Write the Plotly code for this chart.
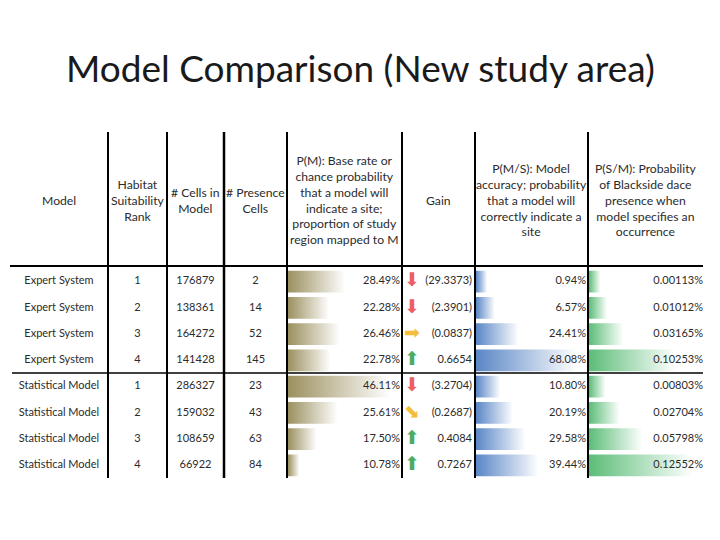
import plotly.graph_objects as go

# table contents
models = ['Expert System'] * 4 + ['Statistical Model'] * 4
ranks = [1, 2, 3, 4, 1, 2, 3, 4]
cells_in_model = [176879, 138361, 164272, 141428, 286327, 159032, 108659, 66922]
presence_cells = [2, 14, 52, 145, 23, 43, 63, 84]
p_m = [28.49, 22.28, 26.46, 22.78, 46.11, 25.61, 17.50, 10.78]
gain = [-29.3373, -2.3901, -0.0837, 0.6654, -3.2704, -0.2687, 0.4084, 0.7267]
gain_icon = ['down', 'down', 'right', 'up', 'down', 'downright', 'up', 'up']
p_ms = [0.94, 6.57, 24.41, 68.08, 10.80, 20.19, 29.58, 39.44]
p_sm = [0.00113, 0.01012, 0.03165, 0.10253, 0.00803, 0.02704, 0.05798, 0.12552]

headers = ['Model', 'Habitat<br>Suitability<br>Rank', '# Cells in<br>Model', '# Presence<br>Cells',
           'P(M): Base rate or<br>chance probability<br>that a model will<br>indicate a site;<br>'
           'proportion of study<br>region mapped to M',
           'Gain',
           'P(M/S): Model<br>accuracy; probability<br>that a model will<br>correctly indicate a<br>site',
           'P(S/M): Probability<br>of Blackside dace<br>presence when<br>model specifies an<br>occurrence']

# the page body has an 8px margin, so the figure is sized to fit the window
OFF = 8
W, H = 720 - OFF, 540 - OFF
FONT = 'Lato'
TXT = '#2b2b2b'
rows = list(range(len(models)))
top_px, bot_px = 268.5, 478.5


def px(x):
    return (x - OFF) / W


def py(y):
    return 1 - (y - OFF) / H


# column edges in window pixels
edges = [10, 108, 167, 224, 287, 402, 475, 588, 704]
centers = [(edges[i] + edges[i + 1]) / 2 for i in range(len(edges) - 1)]

icon_char = {'down': '⬇', 'up': '⬆', 'right': '➡', 'downright': '⬊'}
icon_col = {'down': '#ec5f63', 'up': '#4faa62', 'right': '#f6bd3c', 'downright': '#f6bd3c'}


def fmt_gain(v):
    return '(%.4f)' % abs(v) if v < 0 else '%.4f' % v


def bar_range(vals):
    # excel 2007 style data bars: shortest 10%, longest 90% of the cell
    lo_v, hi_v = min(vals), max(vals)
    span = (hi_v - lo_v) / 0.8
    lo = lo_v - 0.1 * span
    return [lo, lo + span]


fig = go.Figure()

bar_cols = [
    (p_m, 'x2', '#9b905f'),
    (p_ms, 'x3', '#5a86c6'),
    (p_sm, 'x4', '#5cbd78'),
]
hh = 0.41
for vals, ax, col in bar_cols:
    lo = bar_range(vals)[0]
    for r, v in zip(rows, vals):
        fig.add_trace(go.Scatter(
            x=[lo, v, v, lo, lo], y=[r - hh, r - hh, r + hh, r + hh, r - hh],
            xaxis=ax, yaxis='y', mode='lines', line=dict(width=0),
            fill='toself', hoverinfo='skip', showlegend=False,
            fillgradient=dict(type='horizontal',
                              colorscale=[[0, col], [1, '#ffffff']])))


# text layer on top of the bars
def text_trace(x, texts, pos, colors=TXT, size=11, family=FONT):
    fig.add_trace(go.Scatter(
        x=[x] * len(texts), y=rows, xaxis='x5', yaxis='y', mode='text',
        text=texts, textposition=pos, showlegend=False, hoverinfo='skip',
        textfont=dict(family=family, size=size, color=colors)))


text_trace(centers[0], models, 'middle center')
text_trace(centers[1], [str(v) for v in ranks], 'middle center')
text_trace(centers[2], [str(v) for v in cells_in_model], 'middle center')
text_trace(centers[3], [str(v) for v in presence_cells], 'middle center')
text_trace(edges[5] - 2, ['%.2f%%' % v for v in p_m], 'middle left')
text_trace(edges[6] - 3, [fmt_gain(v) for v in gain], 'middle left')
text_trace(edges[5] + 10, [icon_char[k] for k in gain_icon], 'middle center',
           colors=[icon_col[k] for k in gain_icon], size=19, family='DejaVu Sans')
text_trace(edges[7] - 2, ['%.2f%%' % v for v in p_ms], 'middle left')
text_trace(edges[8] - 1, ['%.5f%%' % v for v in p_sm], 'middle left')

ydom = [py(bot_px), py(top_px)]
hidden = dict(visible=False, showgrid=False, zeroline=False, fixedrange=True)
fig.update_layout(
    width=W, height=H, margin=dict(l=0, r=0, t=0, b=0),
    paper_bgcolor='white', plot_bgcolor='rgba(0,0,0,0)',
    xaxis5=dict(domain=[0, 1], range=[OFF, OFF + W], anchor='y', **hidden),
    xaxis2=dict(domain=[px(edges[4] + 1), px(edges[5])], range=bar_range(p_m), anchor='y', **hidden),
    xaxis3=dict(domain=[px(edges[6] + 1), px(edges[7])], range=bar_range(p_ms), anchor='y', **hidden),
    xaxis4=dict(domain=[px(edges[7] + 1), px(edges[8])], range=bar_range(p_sm), anchor='y', **hidden),
    yaxis=dict(domain=ydom, range=[len(rows) - 0.5, -0.5], **hidden),
)

fig.add_annotation(text='Model Comparison (New study area)', x=px(360), y=py(68),
                   xref='paper', yref='paper', showarrow=False,
                   xanchor='center', yanchor='middle',
                   font=dict(family=FONT, size=37, color='#1a1a1a'))

for c, h in zip(centers, headers):
    fig.add_annotation(text=h, x=px(c), y=py(200), xref='paper', yref='paper',
                       showarrow=False, align='center', xanchor='center', yanchor='middle',
                       font=dict(family=FONT, size=12.2, color=TXT))

# grid lines
for i, e in enumerate(edges[1:-1]):
    fig.add_shape(type='line', xref='paper', yref='paper', x0=px(e), x1=px(e),
                  y0=py(132), y1=py(478), line=dict(color='black', width=2.5 if i == 2 else 2))
fig.add_shape(type='line', xref='paper', yref='paper', x0=px(10), x1=px(703),
              y0=py(266), y1=py(266), line=dict(color='black', width=2))
fig.add_shape(type='line', xref='paper', yref='paper', x0=px(12), x1=px(703),
              y0=py(373), y1=py(373), line=dict(color='black', width=1.5))

fig.write_html("out.html")
